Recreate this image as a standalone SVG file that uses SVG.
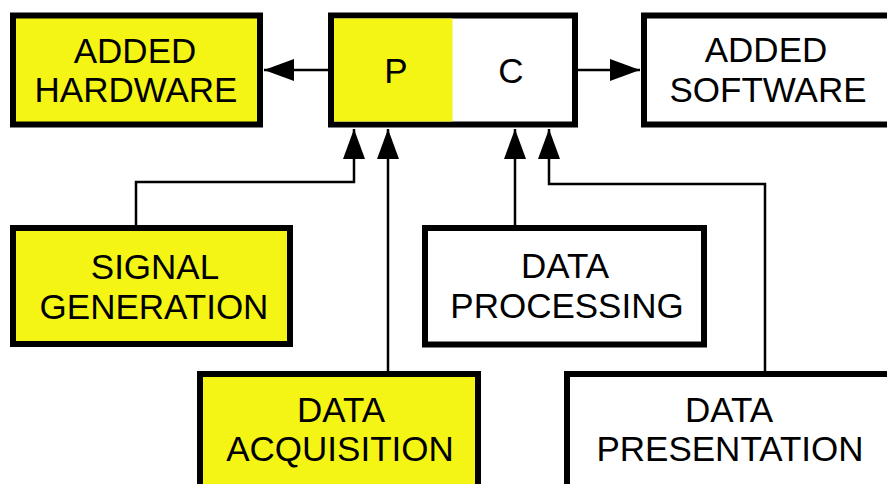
<svg xmlns="http://www.w3.org/2000/svg" width="887" height="484" viewBox="0 0 887 484">
<style>
.box{stroke:#000;stroke-width:6}
.y{fill:#f5f515}
.w{fill:#fff}
text{font-family:"Liberation Sans",Arial,sans-serif;font-size:35px;fill:#000;text-anchor:middle}
.c{fill:none;stroke:#000;stroke-width:2.5}
</style>
<defs>
<marker id="ah" markerUnits="userSpaceOnUse" markerWidth="32" markerHeight="24" viewBox="0 0 32 24" refX="30" refY="12" orient="auto">
<path d="M0,1 L30,12 L0,23 Z" fill="#000"/>
</marker>
</defs>
<rect width="887" height="484" fill="#fff"/>
<g id="connectors">
<path class="c" d="M328,70 H264" marker-end="url(#ah)"/>
<path class="c" d="M578,70 H640" marker-end="url(#ah)"/>
<path class="c" d="M136,225 V182 H354 V129" marker-end="url(#ah)"/>
<path class="c" d="M388,371 V129" marker-end="url(#ah)"/>
<path class="c" d="M515,225 V129" marker-end="url(#ah)"/>
<path class="c" d="M765,371 V184 H549 V129" marker-end="url(#ah)"/>
</g>
<g id="added-hardware">
<rect class="box y" x="13" y="15.5" width="247" height="109"/>
<text x="135" y="62.5">ADDED</text>
<text x="136" y="101.5">HARDWARE</text>
</g>
<g id="pc">
<rect class="box w" x="331" y="15.5" width="244" height="109"/>
<rect class="y" x="334" y="18.5" width="118.5" height="103"/>
<text x="396" y="82.5">P</text>
<text x="511" y="82.5">C</text>
</g>
<g id="added-software">
<rect class="box w" x="644" y="15.5" width="260" height="109"/>
<text x="766" y="61.5">ADDED</text>
<text x="768" y="101.5">SOFTWARE</text>
</g>
<g id="signal-generation">
<rect class="box y" x="13" y="228" width="277" height="116"/>
<text x="155" y="278.5">SIGNAL</text>
<text x="154" y="318.5">GENERATION</text>
</g>
<g id="data-processing">
<rect class="box w" x="425" y="228" width="279" height="116.5"/>
<text x="565" y="278">DATA</text>
<text x="567" y="318">PROCESSING</text>
</g>
<g id="data-acquisition">
<rect class="box y" x="200" y="374" width="278" height="130"/>
<text x="341" y="421.5">DATA</text>
<text x="340" y="461">ACQUISITION</text>
</g>
<g id="data-presentation">
<rect class="box w" x="567" y="374" width="340" height="130"/>
<text x="729" y="421.5">DATA</text>
<text x="730" y="461">PRESENTATION</text>
</g>
</svg>
